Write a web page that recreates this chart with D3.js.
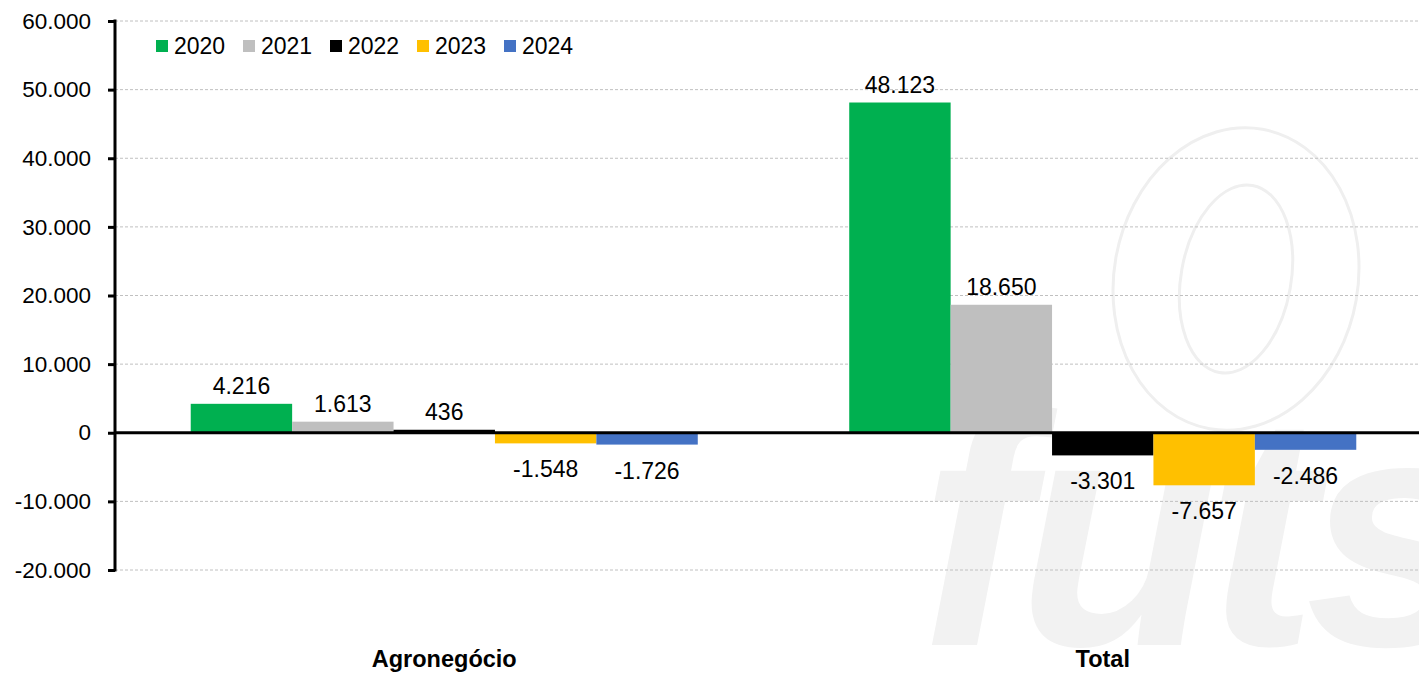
<!DOCTYPE html>
<html lang="pt">
<head>
<meta charset="UTF-8">
<title>Agronegócio x Total</title>
<script src="https://d3js.org/d3.v7.min.js"></script>
<style>
  * { margin: 0; padding: 0; }
  body { background: #fff; font-family: "Liberation Sans", Arial, sans-serif; }
  svg text { font-family: "Liberation Sans", Arial, sans-serif; }
</style>
</head>
<body>
<svg id="chart" width="1419" height="674"></svg>
<script>
// data
const categories = ['Agronegócio', 'Total'];
const years = ['2020', '2021', '2022', '2023', '2024'];
const agroValues = [4216, 1613, 436, -1548, -1726];
const totalValues = [48123, 18650, -3301, -7657, -2486];
const yTicks = [-20000, -10000, 0, 10000, 20000, 30000, 40000, 50000, 60000];
const colors = ['#00b050', '#bfbfbf', '#000000', '#ffc000', '#4472c4'];

const seriesByCat = { 'Agronegócio': agroValues, 'Total': totalValues };

const svg = d3.select('#chart');
const W = 1419, H = 674;
const plotLeft = 115, plotTop = 21, plotBottom = 570, plotRight = 1432;

const y = d3.scaleLinear().domain([-20000, 60000]).range([plotBottom, plotTop]);
const x0 = d3.scaleBand().domain(categories).range([plotLeft, plotRight]);
const groupW = x0.bandwidth() * 0.77;
const x1 = d3.scaleBand().domain(years).range([0, groupW]);
const color = d3.scaleOrdinal().domain(years).range(colors);

// pt-BR style: dot as thousands separator, plain hyphen for minus
const fmt = v => (v < 0 ? '-' : '') + d3.format(',')(Math.abs(v)).replace(/,/g, '.');

// watermark
const wm = svg.append('g').attr('pointer-events', 'none').attr('aria-hidden', 'true');
wm.append('ellipse')
  .attr('cx', 1236).attr('cy', 279).attr('rx', 122).attr('ry', 152)
  .attr('transform', 'rotate(10,1236,279)')
  .attr('fill', 'none').attr('stroke', '#efefef').attr('stroke-width', 3);
wm.append('ellipse')
  .attr('cx', 1236).attr('cy', 279).attr('rx', 55).attr('ry', 95)
  .attr('transform', 'rotate(10,1236,279)')
  .attr('fill', 'none').attr('stroke', '#efefef').attr('stroke-width', 3);
wm.append('text')
  .attr('x', 920).attr('y', 645)
  .attr('font-size', 330).attr('font-weight', 'bold').attr('font-style', 'italic')
  .attr('fill', '#f2f2f2').attr('letter-spacing', -12)
  .text('futs');

// gridlines
svg.append('g')
  .selectAll('line')
  .data(yTicks.filter(t => t !== 0))
  .join('line')
  .attr('x1', plotLeft).attr('x2', W)
  .attr('y1', d => y(d)).attr('y2', d => y(d))
  .attr('stroke', '#c0c0c0').attr('stroke-width', 1)
  .attr('stroke-dasharray', '3,2');

// bars
const groups = svg.append('g')
  .selectAll('g')
  .data(categories)
  .join('g')
  .attr('transform', c => `translate(${x0(c) + (x0.bandwidth() - groupW) / 2},0)`);

groups.selectAll('rect')
  .data(c => years.map((yr, i) => ({ yr, v: seriesByCat[c][i] })))
  .join('rect')
  .attr('x', d => x1(d.yr))
  .attr('width', x1.bandwidth())
  .attr('y', d => y(Math.max(0, d.v)))
  .attr('height', d => Math.abs(y(d.v) - y(0)))
  .attr('fill', d => color(d.yr));

groups.selectAll('text.lbl')
  .data(c => years.map((yr, i) => ({ yr, v: seriesByCat[c][i] })))
  .join('text')
  .attr('class', 'lbl')
  .attr('x', d => x1(d.yr) + x1.bandwidth() / 2)
  .attr('y', d => d.v >= 0 ? y(d.v) - 10 : y(d.v) + 34)
  .attr('text-anchor', 'middle')
  .attr('font-size', 23)
  .attr('fill', '#000')
  .text(d => fmt(d.v));

// zero line
svg.append('line')
  .attr('x1', plotLeft).attr('x2', W)
  .attr('y1', y(0)).attr('y2', y(0))
  .attr('stroke', '#000').attr('stroke-width', 3);

// y axis
const yAxis = svg.append('g')
  .attr('transform', `translate(${plotLeft},0)`)
  .call(d3.axisLeft(y).tickValues(yTicks).tickFormat(fmt).tickSize(7).tickPadding(17));
yAxis.select('.domain').attr('stroke', '#000').attr('stroke-width', 3)
  .attr('d', `M0,${plotTop - 1.5}V${plotBottom + 1.5}`);
yAxis.selectAll('.tick line').attr('stroke', '#000').attr('stroke-width', 3);
yAxis.selectAll('.tick text').attr('font-size', 22.5).attr('fill', '#000')
  .attr('font-family', '"Liberation Sans", Arial, sans-serif');

// category labels
svg.append('g')
  .selectAll('text')
  .data(categories)
  .join('text')
  .attr('x', c => x0(c) + x0.bandwidth() / 2)
  .attr('y', 667)
  .attr('text-anchor', 'middle')
  .attr('font-size', 23.5)
  .attr('font-weight', 'bold')
  .text(c => c);

// legend
const legend = svg.append('g')
  .selectAll('g')
  .data(years)
  .join('g')
  .attr('transform', (d, i) => `translate(${156 + i * 87},46)`);
legend.append('rect')
  .attr('x', 0).attr('y', -6).attr('width', 12).attr('height', 12)
  .attr('fill', d => color(d));
legend.append('text')
  .attr('x', 18).attr('dy', '0.35em')
  .attr('font-size', 23)
  .text(d => d);
</script>
</body>
</html>
